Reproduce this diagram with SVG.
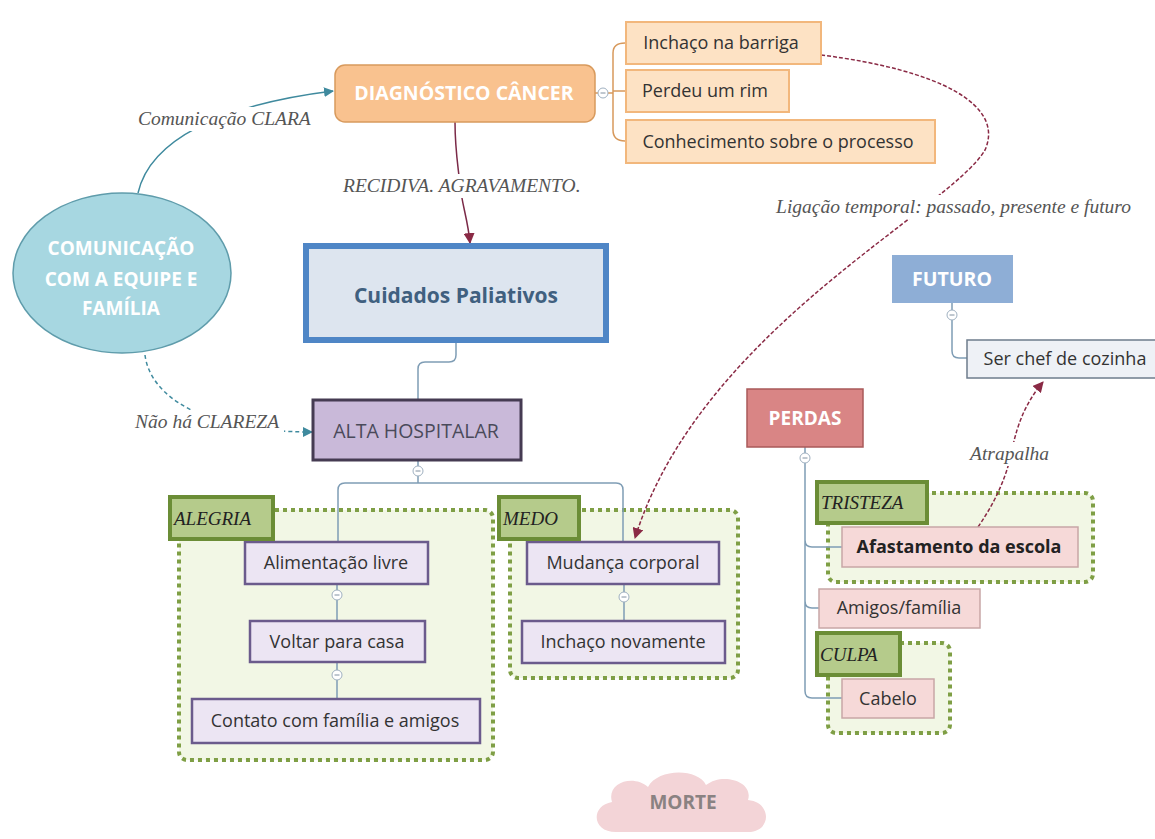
<svg xmlns="http://www.w3.org/2000/svg" width="1155" height="839" viewBox="0 0 1155 839">
<defs>
<style>
.n{font-family:"Open Sans","Liberation Sans",sans-serif;font-size:18px;fill:#333;text-anchor:middle}
.b{font-weight:bold}
.w{fill:#fff}
.lbl{font-family:"Liberation Serif",serif;font-style:italic;font-size:19.5px;fill:#555}
.tag{font-family:"Liberation Serif",serif;font-style:italic;font-size:19px;fill:#222}
.tree{fill:none;stroke:#7f9db5;stroke-width:1.5}
.grp{fill:#f2f7e5;stroke:#7f9f45;stroke-width:4;stroke-dasharray:4 4}
.tagbox{fill:#b5cb8b;stroke:#6b8d36;stroke-width:4}
.pur{fill:#ece5f3;stroke:#6b5b8c;stroke-width:2.5}
.org{fill:#fde2c4;stroke:#f2b77c;stroke-width:2}
.pnk{fill:#f6d9d8;stroke:#c8a6a6;stroke-width:1.5}
.bg{fill:#fff}
</style>
<marker id="arrT" viewBox="0 0 10 10" refX="9" refY="5" markerWidth="10" markerHeight="10" markerUnits="userSpaceOnUse" orient="auto"><path d="M0,0 L10,5 L0,10 z" fill="#3f8a9e"/></marker>
<marker id="arrR" viewBox="0 0 10 10" refX="9" refY="5" markerWidth="11" markerHeight="11" markerUnits="userSpaceOnUse" orient="auto"><path d="M0,0 L10,5 L0,10 z" fill="#8a2a45"/></marker>
<g id="minus"><circle r="5" fill="#fff" stroke="#9fb0c0" stroke-width="1"/><line x1="-2.5" y1="0" x2="2.5" y2="0" stroke="#8090a0" stroke-width="1"/></g>
</defs>
<rect width="1155" height="839" fill="#fff"/>

<!-- groups (boundaries) -->
<g id="grp-alegria"><rect class="grp" x="179" y="510" width="314" height="250" rx="8"/></g>
<g id="grp-medo"><rect class="grp" x="510" y="510" width="228" height="168" rx="8"/></g>
<g id="grp-tristeza"><rect class="grp" x="828" y="493" width="265" height="89" rx="8"/></g>
<g id="grp-culpa"><rect class="grp" x="828" y="643" width="122" height="90" rx="8"/></g>

<!-- connectors -->
<g id="connectors">
  <path d="M138,193 C150,140 220,105 333,91" fill="none" stroke="#3f8a9e" stroke-width="1.5" marker-end="url(#arrT)"/>
  <path d="M145,355 C150,395 200,432 312,432" fill="none" stroke="#3f8a9e" stroke-width="1.5" stroke-dasharray="4 3" marker-end="url(#arrT)"/>
  <path d="M455,122 C455,150 458,165 460,185 C462,205 468,220 470,243" fill="none" stroke="#7b2a48" stroke-width="1.5" marker-end="url(#arrR)"/>
  <path d="M821,55 C940,70 1005,105 985,150 C950,210 700,330 635,538" fill="none" stroke="#8a2a45" stroke-width="1.5" stroke-dasharray="4 2" marker-end="url(#arrR)"/>
  <path d="M978,527 C1000,495 1008,470 1012,450 C1018,420 1028,400 1043,382" fill="none" stroke="#8a2a45" stroke-width="1.5" stroke-dasharray="4 2" marker-end="url(#arrR)"/>
  <!-- tree branches -->
  <path class="tree" d="M595,93 L598,93 M608,93 L613,93 M625,43 Q613,43 613,53 L613,130 Q613,141 625,141 M613,91 L626,91" style="stroke:#d7995c"/>
  <path class="tree" d="M456,343 L456,355 Q456,362 449,362 L425,362 Q418,362 418,369 L418,399"/>
  <path class="tree" d="M418,461 L418,466 M418,476 L418,483 M338,542 L338,490 Q338,483 345,483 L616,483 Q623,483 623,490 L623,542"/>
  <path class="tree" d="M337,584 L337,590 M337,600 L337,621 M337,662 L337,670 M337,680 L337,699"/>
  <path class="tree" d="M624,584 L624,592 M624,602 L624,621"/>
  <path class="tree" d="M952,303 L952,310 M952,320 L952,351 Q952,358 959,358 L967,358"/>
  <path class="tree" d="M805,447 L805,453 M805,463 L805,691 Q805,698 812,698 L842,698 M805,540 Q805,547 812,547 L842,547 M805,601 Q805,608 812,608 L819,608"/>
  <use href="#minus" x="603" y="93"/>
  <use href="#minus" x="418" y="471"/>
  <use href="#minus" x="337" y="595"/>
  <use href="#minus" x="337" y="675"/>
  <use href="#minus" x="624" y="597"/>
  <use href="#minus" x="952" y="315"/>
  <use href="#minus" x="805" y="458"/>
  <!-- connector labels -->
  <rect class="bg" x="134" y="107" width="182" height="24"/>
  <text class="lbl" x="138" y="125">Comunicação CLARA</text>
  <rect class="bg" x="339" y="174" width="248" height="24"/>
  <text class="lbl" x="343" y="192">RECIDIVA. AGRAVAMENTO.</text>
  <rect class="bg" x="770" y="195" width="365" height="24"/>
  <text class="lbl" x="1131" y="213" text-anchor="end">Ligação temporal: passado, presente e futuro</text>
  <rect class="bg" x="131" y="410" width="153" height="24"/>
  <text class="lbl" x="135" y="428">Não há CLAREZA</text>
  <rect class="bg" x="966" y="442" width="92" height="24"/>
  <text class="lbl" x="970" y="460">Atrapalha</text>
</g>

<g id="comunicacao">
  <ellipse cx="122" cy="273" rx="109" ry="80" fill="#a7d7e1" stroke="#5f9cab" stroke-width="1.5"/>
  <text class="n b w" style="font-size:19px" x="121" y="255">COMUNICAÇÃO</text>
  <text class="n b w" style="font-size:19px" x="121" y="286">COM A EQUIPE E</text>
  <text class="n b w" style="font-size:19px" x="121" y="315">FAMÍLIA</text>
</g>

<g id="diagnostico">
  <rect x="335" y="65" width="260" height="57" rx="10" fill="#f9c28f" stroke="#d89a5d" stroke-width="1.5"/>
  <text class="n b w" style="font-size:19.5px" x="464" y="100">DIAGNÓSTICO CÂNCER</text>
</g>
<g id="inchaco-barriga">
  <rect class="org" x="626" y="22" width="195" height="42"/>
  <text class="n" x="721" y="49">Inchaço na barriga</text>
</g>
<g id="perdeu-rim">
  <rect class="org" x="626" y="70" width="163" height="42"/>
  <text class="n" x="705" y="97">Perdeu um rim</text>
</g>
<g id="conhecimento">
  <rect class="org" x="626" y="120" width="309" height="43"/>
  <text class="n" x="778" y="148">Conhecimento sobre o processo</text>
</g>

<g id="cuidados">
  <rect x="306" y="246" width="300" height="94" fill="#dde5ef" stroke="#4f86c6" stroke-width="6"/>
  <text class="n b" style="font-size:21px;fill:#40607f" x="456" y="303">Cuidados Paliativos</text>
</g>

<g id="alta">
  <rect x="313" y="400" width="208" height="60" fill="#c9b9d9" stroke="#453b52" stroke-width="3"/>
  <text class="n" style="font-size:19.5px;fill:#4a4a5a" x="416" y="438">ALTA HOSPITALAR</text>
</g>

<g id="alimentacao">
  <rect class="pur" x="245" y="542" width="183" height="42"/>
  <text class="n" x="336" y="569">Alimentação livre</text>
</g>
<g id="voltar">
  <rect class="pur" x="250" y="621" width="175" height="41"/>
  <text class="n" x="337" y="648">Voltar para casa</text>
</g>
<g id="contato">
  <rect class="pur" x="192" y="699" width="288" height="44"/>
  <text class="n" x="335" y="727">Contato com família e amigos</text>
</g>
<g id="mudanca">
  <rect class="pur" x="527" y="542" width="192" height="42"/>
  <text class="n" x="623" y="569">Mudança corporal</text>
</g>
<g id="inchaco-novamente">
  <rect class="pur" x="522" y="621" width="203" height="42"/>
  <text class="n" x="623" y="648">Inchaço novamente</text>
</g>

<g id="tag-alegria">
  <rect class="tagbox" x="170" y="497" width="103" height="42"/>
  <text class="tag" x="174" y="525">ALEGRIA</text>
</g>
<g id="tag-medo">
  <rect class="tagbox" x="499" y="497" width="80" height="42"/>
  <text class="tag" x="503" y="525">MEDO</text>
</g>

<g id="futuro">
  <rect x="892" y="255" width="121" height="48" fill="#8eaed6"/>
  <text class="n b w" style="font-size:19.5px" x="952" y="286">FUTURO</text>
</g>
<g id="chef">
  <rect x="967" y="340" width="195" height="38" fill="#eef1f6" stroke="#6e7c8c" stroke-width="1.5"/>
  <text class="n" x="1065" y="365">Ser chef de cozinha</text>
</g>

<g id="perdas">
  <rect x="747" y="389" width="116" height="58" fill="#d98585" stroke="#a95a5a" stroke-width="1.5"/>
  <text class="n b w" style="font-size:19px" x="805" y="425">PERDAS</text>
</g>
<g id="afastamento">
  <rect class="pnk" x="842" y="527" width="236" height="40"/>
  <text class="n b" style="fill:#222" x="959" y="553">Afastamento da escola</text>
</g>
<g id="amigos">
  <rect class="pnk" x="819" y="589" width="161" height="39"/>
  <text class="n" x="899" y="614">Amigos/família</text>
</g>
<g id="cabelo">
  <rect class="pnk" x="842" y="679" width="92" height="39"/>
  <text class="n" x="888" y="705">Cabelo</text>
</g>
<g id="tag-tristeza">
  <rect class="tagbox" x="817" y="482" width="110" height="41"/>
  <text class="tag" x="821" y="509">TRISTEZA</text>
</g>
<g id="tag-culpa">
  <rect class="tagbox" x="817" y="633" width="83" height="42"/>
  <text class="tag" x="820" y="661">CULPA</text>
</g>

<g id="morte">
  <path d="M616,832 C592,832 590,806 612,802 C606,782 634,774 648,787 C658,768 698,768 706,785 C722,772 754,781 748,800 C772,802 772,832 748,832 Z" fill="#f3d4d7"/>
  <text class="n b" style="font-size:19px;fill:#8a8282" x="683" y="809">MORTE</text>
</g>
</svg>
